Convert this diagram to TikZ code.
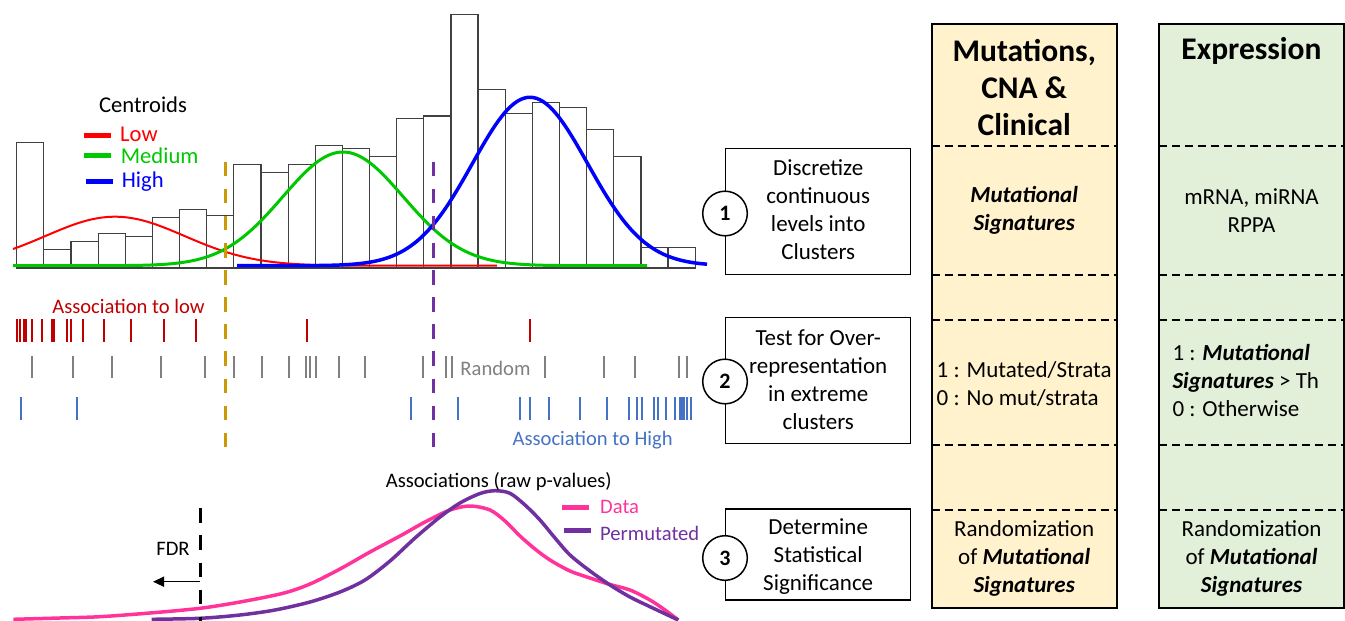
\documentclass[tikz,border=0pt]{standalone}
\usepackage{fontspec}
\setmainfont{Carlito}
\usetikzlibrary{arrows.meta}
\definecolor{lowred}{HTML}{FF0000}
\definecolor{medgreen}{HTML}{00C800}
\definecolor{highblue}{HTML}{0000FF}
\definecolor{assocred}{HTML}{C00000}
\definecolor{assocblue}{HTML}{4472C4}
\definecolor{randgray}{HTML}{808080}
\definecolor{golddash}{HTML}{C99A06}
\definecolor{vio}{HTML}{7030A0}
\definecolor{hotpink}{HTML}{FF3399}
\definecolor{colAfill}{HTML}{FFF2CC}
\definecolor{colBfill}{HTML}{E2F0D9}
\begin{document}
\begin{tikzpicture}[x=1pt,y=-1pt,
  bar/.style={draw=black!75,line width=1.2pt},
  lbl/.style={font=\fontsize{20.6}{24}\selectfont,inner sep=0pt},
  leg/.style={font=\fontsize{22.6}{26}\selectfont,inner sep=0pt},
  body/.style={font=\fontsize{23}{28}\selectfont,align=center,inner sep=0pt},
  bodyl/.style={font=\fontsize{23}{28}\selectfont,align=left,inner sep=0pt,anchor=west},
  head/.style={font=\fontsize{31.5}{37}\selectfont\bfseries,align=center,inner sep=0pt},
  stepbox/.style={draw,line width=1.5pt,fill=white,minimum width=185pt,inner sep=0pt},
  stepcirc/.style={draw,circle,line width=1.5pt,fill=white,minimum size=44.6pt,inner sep=0pt,font=\fontsize{22}{24}\selectfont\bfseries},
  colbox/.style={draw,line width=1.8pt,minimum width=185pt,minimum height=584.3pt,inner sep=0pt},
  sep/.style={line width=1.3pt,dash pattern=on 8pt off 5pt},
  cut/.style={line width=3pt,dash pattern=on 14.5pt off 12.6pt},
  tick/.style={line width=2pt},
  curve/.style={line width=3.5pt,line join=round}]
\useasboundingbox (0,0) rectangle (1345,621);

% ---------- histogram ----------
\foreach \i/\h in {0/142.7,1/249.3,2/241.3,3/233.3,4/236.3,5/217.3,6/209.3,7/215.3,8/164.3,9/172.3,10/164.3,11/145.3,12/148.3,13/156.3,14/118.3,15/116,16/14.3,17/89.3,18/113.3,19/102.7,20/107.7,21/129.3,22/156.3,23/247.3,24/247.3}
  \draw[bar] ({16.7+\i*27.14},268) rectangle ({16.7+(\i+1)*27.14},\h);

% ---------- centroid curves ----------
\draw[lowred,line width=2pt] plot[domain=13:497,samples=120] (\x,{265.7-49*exp(-0.5*((\x-115)/69.5)^2)});
\draw[medgreen,line width=3pt] plot[domain=13:647,samples=150] (\x,{265.7-113.7*exp(-0.5*((\x-343)/60.2)^2)});
\draw[highblue,line width=3.5pt] plot[domain=237:707,samples=150] (\x,{265.7-168.4*exp(-0.5*((\x-530)/57.6)^2)});

% legend
\node[leg] (centroids) at (143,105) {Centroids};
\coordinate (lowA) at (84,135); \coordinate (lowB) at (111,135);
\coordinate (medA) at (84,155.3); \coordinate (medB) at (111,155.3);
\coordinate (higA) at (86,181); \coordinate (higB) at (113,181);
\draw[lowred,line width=5pt] (lowA) -- (lowB);
\draw[medgreen,line width=5pt] (medA) -- (medB);
\draw[highblue,line width=5pt] (higA) -- (higB);
\node[leg,anchor=west,text=lowred] (lowtxt) at (120,134.5) {Low};
\node[leg,anchor=west,text=medgreen] (medtxt) at (120.7,155.5) {Medium};
\node[leg,anchor=west,text=highblue] (higtxt) at (121.7,181.5) {High};

% ---------- ticks ----------
\foreach \x in {16.7,20,23.7,26.3,31.7,41.7,52,53.7,66.7,70.7,82.7,104,130.7,163.7,195.7,307.3,530}
  \draw[tick,assocred] (\x,319) -- (\x,342);
\foreach \x in {31.7,72.7,111.7,161,204.7,234,262,288.7,305.7,310,315.7,339,365,422.7,446,451.7,545,604.3,635,679,687.3}
  \draw[tick,randgray] (\x,356) -- (\x,378);
\foreach \x in {20.7,76.7,410.7,457.7,520,530,549,580,606.7,629,637.3,642.3,654,658.3,666,675,680.3,682.3,684,687.3,691}
  \draw[tick,assocblue] (\x,397) -- (\x,420);
\node[lbl,text=assocred] (asslow) at (128.5,306) {Association to low};
\node[lbl,text=randgray] (random) at (495.5,368.3) {Random};
\node[lbl,text=assocblue] (asshigh) at (592.7,440) {Association to High};

% ---------- cut lines ----------
\draw[cut,golddash] (225,161.7) -- (225,447);
\draw[cut,vio] (433,161.7) -- (433,448);

% ---------- p-value curves ----------
\draw[curve,hotpink] plot[smooth,tension=0.5] coordinates {(13.3,619.3) (60,618) (100,616.7) (150,613) (200,608.3) (240,602) (283,593.3) (310,584) (340,569) (370,552) (400,536) (425,522) (450,510) (470,506) (490,510) (505,521) (520,536) (535,549) (550,560) (570,571) (590,578) (610,584.5) (630,590) (650,600) (665,610) (678.3,620)};
\draw[curve,vio] plot[smooth,tension=0.5] coordinates {(151.7,619.3) (200,618.3) (240,615) (275,610) (310,602) (340,592) (365,580) (390,561) (415,538) (440,517) (460,503) (480,493.5) (495,490.7) (510,493.3) (525,505) (540,520) (555,538) (570,555) (590,571) (610,585) (630,597) (650,606.7) (678.3,620)};
\draw[cut,black] (200,508.3) -- (200,621);
\coordinate (fdrA) at (200,581.7); \coordinate (fdrB) at (153,581.7);
\draw[line width=1.5pt,-{Triangle[length=11pt,width=10pt]}] (fdrA) -- (fdrB);
\node[lbl] (fdr) at (173,549.3) {FDR};
\node[lbl] (assoc) at (498.8,481.7) {Associations (raw p-values)};
\coordinate (datA) at (562.3,507.7); \coordinate (datB) at (589,507.7);
\coordinate (perA) at (564.3,530.7); \coordinate (perB) at (590.7,530.7);
\draw[hotpink,line width=5pt] (datA) -- (datB);
\draw[vio,line width=5pt] (perA) -- (perB);
\node[lbl,anchor=west,text=hotpink] (datatxt) at (600,507) {Data};
\node[lbl,anchor=west,text=vio] (permtxt) at (600,533) {Permutated};

% ---------- step boxes ----------
\node[stepbox,minimum height=126pt] (b1) at (818.2,211.3) {};
\node[body] (t1) at (818.2,210) {Discretize\\continuous\\levels into\\Clusters};
\node[stepbox,minimum height=126pt] (b2) at (818.2,380.3) {};
\node[body] (t2) at (818.2,379.5) {Test for Over-\\representation\\in extreme\\clusters};
\node[stepbox,minimum height=91pt] (b3) at (818.2,554.5) {};
\node[body] (t3) at (818.2,556.5) {Determine\\Statistical\\Significance};
\node[stepcirc] (c1) at (725,213.5) {1};
\node[stepcirc] (c2) at (725,381.5) {2};
\node[stepcirc] (c3) at (725,558) {3};

% ---------- data columns ----------
\node[colbox,fill=colAfill] (colA) at (1024.2,316.15) {};
\node[colbox,fill=colBfill] (colB) at (1251.5,316.15) {};
\foreach \y in {146,275,320,445,510} {
  \draw[sep] (931.7,\y) -- (1116.7,\y);
  \draw[sep] (1159,\y) -- (1344,\y);
}
\node[head] (hA) at (1024.2,88) {Mutations,\\CNA \&\\Clinical};
\node[head] (hB) at (1251.5,51) {Expression};
\node[body] (mA) at (1024.2,210.5) {\textbf{\textit{Mutational}}\\\textbf{\textit{Signatures}}};
\node[body] (mB) at (1251.5,210.5) {mRNA, miRNA\\RPPA};
\node[bodyl] (sA) at (936.5,384) {1 : Mutated/Strata\\0 : No mut/strata};
\node[bodyl] (sB) at (1172.3,380.5) {1 : \textbf{\textit{Mutational}}\\\textbf{\textit{Signatures}} > Th\\0 : Otherwise};
\node[body] (rA) at (1024.2,558.5) {Randomization\\of \textbf{\textit{Mutational}}\\\textbf{\textit{Signatures}}};
\node[body] (rB) at (1251.5,558.5) {Randomization\\of \textbf{\textit{Mutational}}\\\textbf{\textit{Signatures}}};
\end{tikzpicture}
\end{document}
